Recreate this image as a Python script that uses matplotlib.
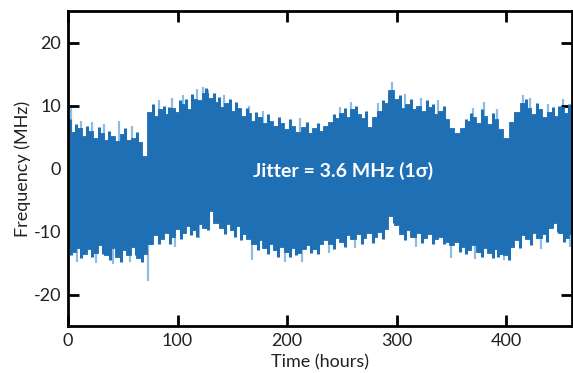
import matplotlib
matplotlib.use("Agg")
import matplotlib.pyplot as plt

# envelope of the dense trace, read every 5 hours (MHz)
TIME_H = list(range(0, 461, 5))
UPPER = [
    6.5, 5.8, 6.4, 5.2, 5.9, 4.9, 5.6, 4.5, 5.2, 4.3,
    5.4, 4.6, 4.9, 4.2, 2.0, 9.0, 8.4, 9.4, 8.6, 9.6,
    9.0, 10.2, 9.4, 11.0, 10.8, 12.0, 11.2, 10.6, 9.8, 10.4,
    9.2, 9.6, 8.4, 8.8, 7.6, 8.2, 7.2, 7.6, 6.8, 7.2,
    6.2, 6.8, 5.8, 6.6, 5.6, 6.4, 6.0, 6.8, 7.4, 8.0,
    8.8, 8.2, 9.4, 8.6, 8.0, 6.6, 8.2, 9.2, 10.4, 12.4,
    11.0, 9.6, 10.2, 9.4, 10.0, 9.2, 9.8, 8.6, 9.2, 7.8,
    6.4, 5.6, 6.4, 7.6, 8.2, 7.2, 8.4, 7.0, 7.8, 6.2,
    4.8, 7.4, 9.0, 10.4, 9.6, 8.6, 9.4, 8.2, 9.0, 8.4,
    9.8, 8.8, 9.4,
]
LOWER = [
    -12.4, -13.2, -12.6, -13.6, -12.8, -13.4, -12.2, -13.8, -12.6, -14.0,
    -13.0, -13.8, -12.4, -14.2, -13.6, -12.0, -10.6, -11.2, -10.2, -10.8,
    -9.6, -10.2, -9.2, -9.8, -8.8, -9.4, -6.8, -8.6, -9.4, -8.8,
    -9.8, -9.2, -10.4, -11.2, -12.0, -11.4, -12.6, -12.0, -13.0, -12.4,
    -13.2, -12.6, -13.4, -12.8, -12.2, -12.8, -12.0, -11.4, -12.0, -11.0,
    -11.6, -10.6, -11.2, -10.4, -11.0, -10.2, -10.8, -10.0, -9.6, -7.6,
    -9.0, -10.4, -9.8, -10.8, -10.2, -11.0, -10.4, -11.2, -10.8, -11.6,
    -12.2, -11.6, -12.4, -13.0, -12.2, -13.2, -12.6, -13.4, -12.8, -13.6,
    -13.8, -12.4, -11.4, -10.6, -11.2, -10.2, -11.0, -10.4, -9.4, -8.6,
    -10.2, -11.0, -10.4,
]

# short dark excursions just past the envelope
EDGE_UP_T = [2, 7, 17, 28, 37, 52, 63, 78, 88, 92, 102, 108, 113, 126, 133, 138, 148, 153,
             163, 172, 183, 193, 203, 218, 228, 243, 253, 263, 272, 288, 293, 303, 313,
             328, 333, 343, 363, 368, 378, 388, 408, 418, 428, 443, 448, 457]
EDGE_UP_F = [7.8, 7.0, 6.8, 6.6, 6.0, 6.4, 5.8, 10.2, 10.0, 9.8, 10.8, 11.0, 11.8, 12.8, 12.0,
             11.4, 11.0, 10.6, 9.6, 9.0, 8.6, 8.2, 7.8, 7.4, 7.2, 8.6, 9.6, 10.0, 9.2, 10.8,
             11.6, 11.6, 11.0, 10.8, 10.2, 10.0, 7.8, 8.8, 9.4, 8.8, 8.8, 11.0, 10.4, 9.8,
             10.0, 10.2]
EDGE_DN_T = [3, 12, 22, 32, 38, 48, 62, 68, 83, 93, 103, 112, 118, 128, 143, 152, 158, 173,
             183, 192, 203, 208, 222, 228, 243, 253, 268, 278, 288, 298, 308, 323, 333,
             343, 358, 363, 378, 388, 393, 403, 413, 423, 437, 447, 453]
EDGE_DN_F = [-13.8, -14.2, -14.0, -13.6, -14.6, -14.8, -13.8, -14.8, -12.0, -12.0, -11.2,
             -10.6, -10.8, -9.8, -10.4, -10.8, -11.4, -13.0, -13.6, -14.0, -14.0, -13.8,
             -13.4, -13.6, -12.8, -12.4, -12.0, -11.8, -11.2, -8.6, -11.4, -11.8, -12.0,
             -12.0, -13.2, -13.6, -14.0, -14.2, -14.0, -14.6, -12.6, -12.2, -11.6, -10.0,
             -11.6]

# isolated excursions (lighter spikes)
SPIKE_UP_T = [3, 12, 22, 33, 47, 58, 83, 95, 105, 118, 123, 128, 142, 165, 178,
              212, 248, 258, 283, 296, 308, 322, 338, 370, 380, 392, 415, 422, 438, 452]
SPIKE_UP_F = [9.6, 7.6, 7.4, 7.0, 7.6, 6.8, 10.8, 11.2, 11.6, 12.6, 13.0, 12.4, 11.6, 10.0, 9.2,
              8.0, 9.8, 10.6, 10.4, 13.8, 11.8, 11.2, 10.8, 9.6, 10.6, 9.4, 11.6, 11.2, 10.2, 11.0]
SPIKE_DN_T = [8, 26, 41, 57, 73, 98, 120, 168, 198, 214, 238, 262, 318, 350, 372, 398, 432, 458]
SPIKE_DN_F = [-14.8, -15.0, -15.2, -14.9, -17.8, -12.4, -11.0, -14.6, -14.8, -14.8,
              -13.4, -12.6, -12.4, -14.2, -14.4, -14.6, -12.8, -12.4]

DARK = "#1f6fb5"
LIGHT = "#8fbce4"

plt.rcParams["font.family"] = ["Lato", "DejaVu Sans"]
plt.rcParams["axes.unicode_minus"] = False

fig = plt.figure(figsize=(5.73, 3.73), dpi=100)
ax = fig.add_axes([0.1187, 0.126, 0.8793, 0.8445])

ax.vlines(SPIKE_UP_T, 0, SPIKE_UP_F, color=LIGHT, linewidth=1.6, zorder=1)
ax.vlines(SPIKE_DN_T, SPIKE_DN_F, 0, color=LIGHT, linewidth=1.6, zorder=1)
ax.fill_between(TIME_H, LOWER, UPPER, step="mid", color=DARK, linewidth=0.6,
                edgecolor=DARK, zorder=2)
ax.vlines(EDGE_UP_T, 0, EDGE_UP_F, color=DARK, linewidth=2.2, zorder=2)
ax.vlines(EDGE_DN_T, EDGE_DN_F, 0, color=DARK, linewidth=2.2, zorder=2)

ax.text(251, -0.4, "Jitter = 3.6 MHz (1\u03c3)", color="white", fontsize=14,
        fontweight="bold", ha="center", va="center", zorder=3)

ax.set_xlim(0, 460)
ax.set_ylim(-25, 25)
ax.set_xticks([0, 100, 200, 300, 400])
ax.set_yticks([-20, -10, 0, 10, 20])
ax.set_xlabel("Time (hours)", fontsize=13, color="#222222", labelpad=4)
ax.set_ylabel("Frequency (MHz)", fontsize=13, color="#222222", labelpad=2)
ax.tick_params(direction="in", length=8, width=2, top=True, right=True,
               labelsize=13, labelcolor="#222222", pad=5)
for spine in ax.spines.values():
    spine.set_linewidth(2)

fig.savefig("out.png", dpi=100)
